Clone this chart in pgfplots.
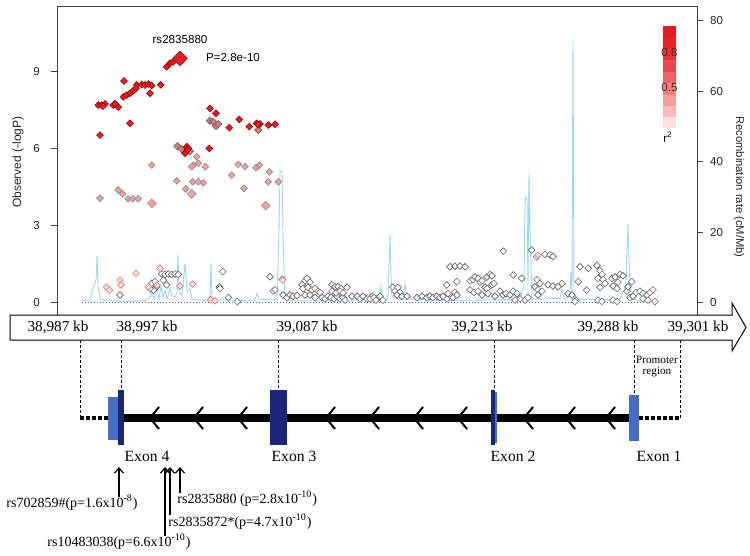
\documentclass[border=0pt]{standalone}
\usepackage{fontspec}
\setmainfont{Liberation Serif}
\newfontfamily\arial{Liberation Sans}
\usepackage{pgfplots}
\pgfplotsset{compat=1.18}
\usetikzlibrary{arrows.meta}
\newcommand{\fs}[1]{\fontsize{#1}{#1}\selectfont}
\definecolor{rred}{RGB}{232,28,32}
\definecolor{rblue}{RGB}{160,214,240}
\definecolor{navy}{RGB}{28,36,120}
\definecolor{lblue}{RGB}{72,110,196}
\definecolor{pinkf}{RGB}{240,160,160}
\definecolor{mauve}{RGB}{215,120,120}
\definecolor{lpink}{RGB}{252,225,225}
\definecolor{dotc}{RGB}{70,110,150}
\begin{document}
\begin{tikzpicture}
% ---------- recombination rate (right axis)
\begin{axis}[at={(28.5pt,-157.5pt)}, anchor=south west, scale only axis,
  width=320pt, height=154.5pt, xmin=57, xmax=697, ymin=-3.49, ymax=84.1,
  axis x line=none, axis y line*=right, ytick={0,20,40,60,80},
  tick align=outside, major tick length=3pt,
  /pgf/number format/assume math mode=true,
  yticklabel style={font=\arial\fs{5.8}, text=black!85},
  axis line style={black!75, line width=0.5pt}, tick style={black!75, line width=0.5pt}]
\addplot[rblue, line width=0.45pt] coordinates {
(82,0.5)(90,0.8)(94,5)(96,6.5)(97,13.2)(98,5)(100,1)(105,0.8)(115,0.5)(125,0.3)(135,0.5)(145,0.6)
(150,1.5)(152,3)(154,1)(157,4)(159,1)(161,4.5)(163,1.5)(165,3.5)(167,1)(170,4)(172,2)(175,1.5)
(177,3)(178,13.8)(179,3)(182,2)(185,11)(187,3)(190,4)(192,1)(200,0.8)(208,0.5)(210,2)(211,11.2)
(212,2)(214,1)(220,0.8)(240,0.6)(255,0.8)(257,2.7)(259,1)(270,0.8)(277,1)(279,20)(280,37.4)
(282,37)(283,20)(285,1)(290,0.5)(300,0.5)(350,0.5)(380,0.5)(381,4.5)(383,0.5)(388,1)(389,10)
(390,19.4)(391,8)(392,2)(395,1)(403,1)(405,5)(407,1)(420,0.8)(450,0.6)(500,0.8)(520,1)(524,5)
(525,28)(526,30)(527,29)(528,5)(529,36.7)(530,20)(532,1)(540,1)(560,1.2)(562,4)(564,1)(570,2)
(571,8.8)(572,3)(573,74.5)(574,2)(580,1)(600,0.8)(620,1)(626,5)(627,15)(628,22.3)(629,12)
(630,5)(632,1)(640,0.6)(655,0.5)};
\end{axis}
% ---------- association (left axis)
\begin{axis}[at={(28.5pt,-157.5pt)}, anchor=south west, scale only axis,
  width=320pt, height=154.5pt, xmin=57, xmax=697, ymin=-0.48, ymax=11.56,
  xtick=\empty, ytick={0,3,6,9}, ytick pos=left,
  tick align=outside, major tick length=3pt,
  /pgf/number format/assume math mode=true,
  yticklabel style={font=\arial\fs{5.8}, text=black!85, xshift=-2.1pt},
  axis line style={black!75, line width=0.5pt}, tick style={black!75, line width=0.5pt}]
\addplot[dotc, densely dotted, line width=0.5pt] coordinates {(82,0) (655,0)};
% low r2 (white)
\addplot[only marks, mark=square*, mark size=1.2pt, mark options={rotate=45, fill=white, draw=black!60, line width=0.3pt}] coordinates {
(120,0.30)(151.7,0.76)(155,0.82)(156.7,0.62)(153.3,0.49)(150,0.55)
(161.7,1.12)(165,1.10)(168.3,1.12)(171.7,1.10)(175,1.12)(178.3,1.10)(163.3,0.88)(166.7,0.69)
(222.7,1.21)(219.3,0.62)(220,0.56)(228.3,0.20)(237.3,0.04)
(270,1.01)(273.3,0.46)(275,0.5)(282.3,0.91)(283,0.3)(287,0.2)(290,0.3)(293,0.25)(297,0.28)
(302,0.7)(305,0.85)(307,0.95)(310,0.8)(303,0.55)(308,0.6)(312,0.5)(315,0.55)(318,0.45)(305,0.3)(310,0.3)(315,0.2)(320,0.4)
(322,0.2)(325,0.15)(328,0.25)(331,0.2)(334,0.15)(337,0.25)(340,0.15)(343,0.2)(345,0.1)
(332,0.7)(335,0.62)(338,0.62)(341,0.55)(332,0.45)(336,0.38)(340,0.45)(343,0.38)(347,0.6)
(352,0.25)(357,0.25)(360,0.15)(363,0.25)(367,0.15)(372,0.25)(377,0.15)(380,0.25)(383,0.1)(370,0.15)(374,0.2)(376,0.1)
(393,0.6)(395,0.45)(398,0.6)(400,0.4)(397,0.3)(402,0.25)
(407,0.25)(417,0.2)(422,0.25)(427,0.2)(430,0.25)(433,0.2)(437,0.25)(440,0.2)(443,0.25)(447,0.15)(448,0.35)(453,0.2)(455,0.4)(457,0.3)
(450,1.40)(455,1.42)(460,1.43)(465,1.40)(456.7,0.82)(446.7,0.69)
(470,0.85)(473,0.9)(475,1.0)(478,0.95)(480,0.8)(482,0.85)(487,1.0)(490,1.1)(492,1.05)(485,0.6)(487,0.55)(492,0.7)(494,0.75)
(470,0.5)(474,0.4)(478,0.45)(482,0.3)(488,0.35)(495,0.25)(500,0.45)(503,0.3)(506,0.35)(510,0.3)(513,0.45)(517,0.35)
(503.3,2.01)(513.3,1.08)(521.7,0.95)(531.7,2.05)(536.7,1.79)(545,1.88)(550,1.86)(553,1.80)
(537,0.9)(540,0.75)(535,0.62)(538,0.5)(542,0.45)(538,0.3)(548,0.7)(553,0.65)(558,0.62)(562,0.75)
(520,0.15)(525,0.1)(528,0.2)(515,0.1)(568,0.35)(572,0.3)(576,0.1)(575,0.05)
(578.3,0.82)(580,1.40)(588.3,1.34)(586.7,0.49)
(597,1.45)(600,1.25)(602,1.1)(598,0.95)(603,0.9)(605,0.75)(600,0.6)
(612,0.95)(615,1.0)(618,0.8)(613,0.65)(617,0.55)(620,1.1)(623,1.05)
(598,0.1)(602,0.05)(613,0.1)(617,0.05)
(627,0.45)(628,0.62)(631.7,0.82)(630,0.2)(633,0.25)(636,0.4)(640,0.45)(643,0.35)(647,0.3)(650,0.4)(653,0.5)(643,0.15)(648,0.1)(655,0.04)};
% slightly pink
\addplot[only marks, mark=square*, mark size=1.2pt, mark options={rotate=45, fill=lpink, draw=mauve, line width=0.3pt}] coordinates {
(106.7,0.60)(109.3,0.49)(120,0.88)(121,0.69)(136,1.14)(160,1.34)(180,0.65)(192.7,0.72)(210.7,0.11)(215,0.07)(148.3,0.62)(157,0.68)(538,1.85)(282.7,0.88)};
% pink
\addplot[only marks, mark=square*, mark size=1.2pt, mark options={rotate=45, fill=pinkf, draw=black!45, line width=0.3pt}] coordinates {
(100,4.07)(118.3,4.39)(122.7,4.24)(128.3,4.05)(132.7,4.05)(138.3,4.05)(151.7,5.36)(176.7,4.75)(185.7,4.43)
(193.3,5.36)(196.7,5.69)(198.3,5.43)(191.7,5.30)(192.7,4.71)(198.3,4.71)(203.3,4.67)(205.3,5.30)(231.7,4.97)
(238.3,5.39)(245,5.30)(244,4.46)(256,5.26)(259.3,5.36)(269.3,5.10)(268.3,4.71)(278.3,4.71)};
\addplot[only marks, mark=square*, mark size=1.6pt, mark options={rotate=45, fill=pinkf, draw=black!40, line width=0.3pt}] coordinates {
(151.7,3.87)(191.7,4.24)(265.7,3.78)};
% mauve
\addplot[only marks, mark=square*, mark size=1.3pt, mark options={rotate=45, fill=mauve, draw=black!60, line width=0.3pt}] coordinates {
(210,7.09)(213.3,7.05)(216,6.88)(218.3,6.96)(258.3,6.73)(177.3,6.10)(181.7,5.98)(190,5.9)};
% high r2 (red)
\addplot[only marks, mark=square*, mark size=1.2pt, mark options={rotate=45, fill=rred, draw=red!60!black, line width=0.3pt}] coordinates {
(166.7,9.19)(170,9.33)(173.3,9.39)(124,8.64)(160.7,8.49)(136.7,8.48)(141.7,8.50)(145,8.48)(148.3,8.52)(151.7,8.46)(150,8.16)
(123.3,8.02)(126.7,8.09)(130,8.16)(133.3,8.26)(136,8.35)
(98.3,7.70)(101.7,7.70)(105,7.74)(113.3,7.70)(118.3,7.62)(103,7.66)(115,7.75)
(130,6.99)(100,6.53)(210,7.57)(216,7.38)
(229.3,6.82)(239.3,7.14)(249.3,6.86)(256.7,6.99)(260,6.96)(268.3,6.92)(275,6.95)(258,6.94)
(209.3,6.01)(186.7,6.08)(188.3,6.01)(185,5.82)(187.5,5.95)};
\addplot[only marks, mark=square*, mark size=2.6pt, mark options={rotate=45, fill=rred, draw=red!70!black, line width=0.3pt}] coordinates {(180,9.52)};
\end{axis}
% ---------- overlay in pixel units
\begin{axis}[at={(0pt,0pt)}, anchor=north west, scale only axis, width=375pt, height=278pt,
  xmin=0, xmax=750, ymin=0, ymax=556, y dir=reverse, axis lines=none, clip=false]
% plot texts
\node[font=\arial\fs{5.8}] at (axis cs:180,40) {rs2835880};
\node[font=\arial\fs{5.8}] at (axis cs:233,57.5) {P=2.8e-10};
\node[font=\arial\fs{6}, rotate=90, text=black!85] at (axis cs:18,162) {Observed (-logP)};
\node[font=\arial\fs{5.6}, rotate=-90, text=black!85] at (axis cs:739,187) {Recombination rate (cM/Mb)};
% colour bar
\fill[rred!100!white] (axis cs:663,26) rectangle (axis cs:676,37.5);
\fill[rred!97!white] (axis cs:663,37.5) rectangle (axis cs:676,49);
\fill[rred!90!white] (axis cs:663,49) rectangle (axis cs:676,60);
\fill[rred!80!white] (axis cs:663,60) rectangle (axis cs:676,71.5);
\fill[rred!68!white] (axis cs:663,71.5) rectangle (axis cs:676,83);
\fill[rred!56!white] (axis cs:663,83) rectangle (axis cs:676,94.5);
\fill[rred!44!white] (axis cs:663,94.5) rectangle (axis cs:676,106);
\fill[rred!30!white] (axis cs:663,106) rectangle (axis cs:676,117);
\fill[rred!14!white] (axis cs:663,117) rectangle (axis cs:676,128);
\node[font=\arial\fs{5.8}, text=black!80] at (axis cs:669.5,53) {0.8};
\node[font=\arial\fs{5.8}, text=black!80] at (axis cs:669.5,88) {0.5};
\node[font=\arial\fs{5.8}] at (axis cs:668,137) {r\textsuperscript{2}};
% big arrow bar
\draw[fill=white, line width=0.5pt] (axis cs:10,315) -- (axis cs:732,315) -- (axis cs:732,303) -- (axis cs:746,327.5)
  -- (axis cs:732,351) -- (axis cs:732,340) -- (axis cs:10,340) -- cycle;
\node[font=\fs{7.6}] at (axis cs:58,327.5) {38,987 kb};
\node[font=\fs{7.6}] at (axis cs:147,327.5) {38,997 kb};
\node[font=\fs{7.6}] at (axis cs:307,327.5) {39,087 kb};
\node[font=\fs{7.6}] at (axis cs:482,327.5) {39,213 kb};
\node[font=\fs{7.6}] at (axis cs:608,327.5) {39,288 kb};
\node[font=\fs{7.6}] at (axis cs:698,327.5) {39,301 kb};
% dashed verticals
\draw[line width=0.5pt, dash pattern=on 1.5pt off 1pt] (axis cs:80,340) -- (axis cs:80,418);
\draw[line width=0.5pt, dash pattern=on 1.5pt off 1pt] (axis cs:121,340) -- (axis cs:121,390);
\draw[line width=0.5pt, dash pattern=on 1.5pt off 1pt] (axis cs:278,340) -- (axis cs:278,390);
\draw[line width=0.5pt, dash pattern=on 1.5pt off 1pt] (axis cs:494,340) -- (axis cs:494,390);
\draw[line width=0.5pt, dash pattern=on 1.5pt off 1pt] (axis cs:634,340) -- (axis cs:634,395);
\draw[line width=0.5pt, dash pattern=on 1.5pt off 1pt] (axis cs:680,340) -- (axis cs:680,418);
\node[font=\fs{5.6}] at (axis cs:657,360) {Promoter};
\node[font=\fs{5.6}] at (axis cs:657,372) {region};
% gene body
\draw[line width=1.6pt, dash pattern=on 2pt off 1pt] (axis cs:80,418) -- (axis cs:108,418);
\draw[line width=1.6pt, dash pattern=on 2pt off 1pt] (axis cs:639,418) -- (axis cs:680,418);
\draw[line width=3.6pt] (axis cs:118,418) -- (axis cs:630,418);
\draw[line width=1pt] (axis cs:159,407) -- (axis cs:150,418) -- (axis cs:159,429);
\draw[line width=1pt] (axis cs:203,407) -- (axis cs:194,418) -- (axis cs:203,429);
\draw[line width=1pt] (axis cs:247,407) -- (axis cs:238,418) -- (axis cs:247,429);
\draw[line width=1pt] (axis cs:335,407) -- (axis cs:326,418) -- (axis cs:335,429);
\draw[line width=1pt] (axis cs:379,407) -- (axis cs:370,418) -- (axis cs:379,429);
\draw[line width=1pt] (axis cs:423,407) -- (axis cs:414,418) -- (axis cs:423,429);
\draw[line width=1pt] (axis cs:467,407) -- (axis cs:458,418) -- (axis cs:467,429);
\draw[line width=1pt] (axis cs:533,407) -- (axis cs:524,418) -- (axis cs:533,429);
\draw[line width=1pt] (axis cs:575,407) -- (axis cs:566,418) -- (axis cs:575,429);
\draw[line width=1pt] (axis cs:615,407) -- (axis cs:606,418) -- (axis cs:615,429);
\fill[lblue] (axis cs:108,397) rectangle (axis cs:118,440);
\fill[navy] (axis cs:118,390) rectangle (axis cs:124,445);
\fill[navy] (axis cs:270,390) rectangle (axis cs:287,445);
\fill[navy] (axis cs:491,390) rectangle (axis cs:495,445);
\fill[lblue] (axis cs:495,392) rectangle (axis cs:497,443);
\fill[lblue] (axis cs:629,395) rectangle (axis cs:639,441);
\node[font=\fs{7.8}] at (axis cs:147,456) {Exon 4};
\node[font=\fs{7.8}] at (axis cs:294,456) {Exon 3};
\node[font=\fs{7.8}] at (axis cs:513,456) {Exon 2};
\node[font=\fs{7.8}] at (axis cs:659,456) {Exon 1};
% SNP arrows
\draw[line width=0.6pt, -{Straight Barb[length=2.6pt, width=4.5pt]}] (axis cs:119,497) -- (axis cs:119,467);
\draw[line width=0.6pt, -{Straight Barb[length=2.6pt, width=4.5pt]}] (axis cs:165,536) -- (axis cs:165,467);
\draw[line width=0.6pt, -{Straight Barb[length=2.6pt, width=4.5pt]}] (axis cs:170,515) -- (axis cs:170,467);
\draw[line width=0.6pt, -{Straight Barb[length=2.6pt, width=4.5pt]}] (axis cs:180,493) -- (axis cs:180,467);
\node[font=\fs{7}, anchor=west, inner sep=0pt] at (axis cs:6,503) {rs702859\#(p=1.6x10\textsuperscript{-8})};
\node[font=\fs{7}, anchor=west, inner sep=0pt] at (axis cs:177,499) {rs2835880 (p=2.8x10\textsuperscript{-10})};
\node[font=\fs{7}, anchor=west, inner sep=0pt] at (axis cs:168,522) {rs2835872*(p=4.7x10\textsuperscript{-10})};
\node[font=\fs{7}, anchor=west, inner sep=0pt] at (axis cs:47,542) {rs10483038(p=6.6x10\textsuperscript{-10})};
\end{axis}
\pgfresetboundingbox
\path[use as bounding box] (0pt,0pt) rectangle (375pt,-278pt);
\end{tikzpicture}
\end{document}
